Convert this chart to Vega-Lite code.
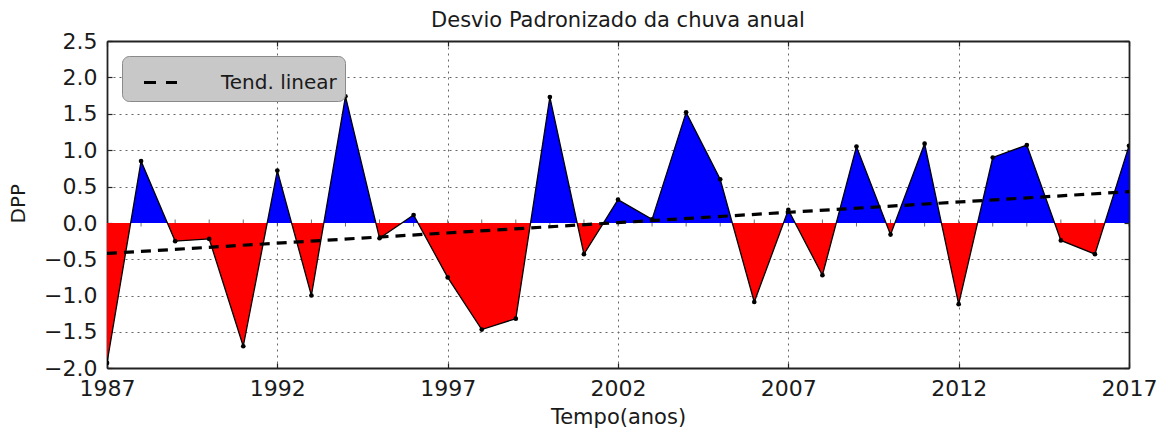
{
  "$schema": "https://vega.github.io/schema/vega-lite/v6.json",
  "padding": {"left": 8, "top": 10, "right": 5, "bottom": 5},
  "background": "white",
  "spacing": 0,
  "bounds": "flush",
  "config": {
    "view": {"stroke": null},
    "font": "DejaVu Sans",
    "axis": {"labelFont": "DejaVu Sans", "titleFont": "DejaVu Sans", "labelColor": "#1a1a1a", "titleColor": "#1a1a1a", "titleFontWeight": "normal",
      "tickColor": "#222", "tickWidth": 1.2, "tickSize": -5, "domain": true, "domainColor": "#222", "domainWidth": 1.8,
      "gridColor": "#666", "gridDash": [2, 4], "gridWidth": 1, "labelFlush": false, "labelOverlap": false, "labelFontSize": 22}
  },
  "datasets": {
    "dpp": [
      {"ano": 1987, "dpp": -1.93}, {"ano": 1988, "dpp": 0.85}, {"ano": 1989, "dpp": -0.25},
      {"ano": 1990, "dpp": -0.22}, {"ano": 1991, "dpp": -1.70}, {"ano": 1992, "dpp": 0.72},
      {"ano": 1993, "dpp": -1.00}, {"ano": 1994, "dpp": 1.74}, {"ano": 1995, "dpp": -0.21},
      {"ano": 1996, "dpp": 0.11}, {"ano": 1997, "dpp": -0.75}, {"ano": 1998, "dpp": -1.47},
      {"ano": 1999, "dpp": -1.32}, {"ano": 2000, "dpp": 1.73}, {"ano": 2001, "dpp": -0.43},
      {"ano": 2002, "dpp": 0.32}, {"ano": 2003, "dpp": 0.05}, {"ano": 2004, "dpp": 1.52},
      {"ano": 2005, "dpp": 0.60}, {"ano": 2006, "dpp": -1.09}, {"ano": 2007, "dpp": 0.18},
      {"ano": 2008, "dpp": -0.72}, {"ano": 2009, "dpp": 1.05}, {"ano": 2010, "dpp": -0.16},
      {"ano": 2011, "dpp": 1.09}, {"ano": 2012, "dpp": -1.12}, {"ano": 2013, "dpp": 0.90},
      {"ano": 2014, "dpp": 1.07}, {"ano": 2015, "dpp": -0.24}, {"ano": 2016, "dpp": -0.43},
      {"ano": 2017, "dpp": 1.06}
    ],
    "tend": [
      {"ano": 1987, "tend": -0.42, "serie": "Tend. linear"},
      {"ano": 2017, "tend": 0.43, "serie": "Tend. linear"}
    ]
  },
  "resolve": {"scale": {"color": "independent"}, "legend": {"color": "independent"}},
  "vconcat": [
    {
      "width": 1022,
      "height": 182,
      "title": {"text": "Desvio Padronizado da chuva anual", "fontSize": 21, "font": "DejaVu Sans", "fontWeight": "normal", "color": "#1a1a1a", "offset": -1, "frame": "group"},
      "resolve": {"axis": {"y": "independent"}},
      "layer": [
        {
          "data": {"name": "dpp"},
          "mark": {"type": "tick", "orient": "vertical", "color": "#333", "size": 7, "thickness": 1, "clip": true},
          "encoding": {
            "x": {"field": "ano", "type": "quantitative", "scale": {"domain": [1987, 2017], "nice": false, "zero": false}},
            "y": {"datum": 0, "type": "quantitative", "scale": {"domain": [0, 2.5], "nice": false, "zero": false}, "axis": null}
          }
        },
        {
          "data": {"name": "dpp"},
          "mark": {"type": "area", "color": "#0000ff", "opacity": 1, "clip": true},
          "encoding": {
            "x": {"field": "ano", "type": "quantitative", "scale": {"domain": [1987, 2017], "nice": false, "zero": false},
              "axis": {"orient": "top", "values": [1987, 1992, 1997, 2002, 2007, 2012, 2017], "labels": false, "title": null, "grid": true, "domain": true}},
            "y": {"field": "dpp", "type": "quantitative", "scale": {"domain": [0, 2.5], "nice": false, "zero": false},
              "axis": {"orient": "left", "values": [0.5, 1, 1.5, 2, 2.5], "format": ".1f", "title": "DPP", "titleFontSize": 20, "domain": true,
                "labelPadding": 15, "titlePadding": 34, "titleAnchor": "start", "grid": true}},
            "y2": {"datum": 0}
          }
        },
        {
          "data": {"name": "dpp"},
          "mark": {"type": "line", "color": "#000000", "strokeWidth": 1.3, "clip": true, "point": {"filled": true, "color": "#000000", "size": 22}},
          "encoding": {
            "x": {"field": "ano", "type": "quantitative"},
            "y": {"field": "dpp", "type": "quantitative",
              "axis": {"orient": "right", "values": [0.5, 1, 1.5, 2, 2.5], "labels": false, "title": null, "grid": false, "domain": true}}
          }
        },
        {
          "data": {"name": "tend"},
          "mark": {"type": "line", "strokeWidth": 3.2, "strokeDash": [10, 7], "clip": true},
          "encoding": {
            "x": {"field": "ano", "type": "quantitative"},
            "y": {"field": "tend", "type": "quantitative", "axis": null},
            "color": {"field": "serie", "type": "nominal", "scale": {"range": ["#000000"]},
              "legend": {"orient": "top-left", "offset": 15, "title": null, "symbolType": "stroke", "symbolStrokeWidth": 3.2,
                "symbolDash": [12, 10], "symbolSize": 1089, "symbolOffset": 12, "labelFontSize": 20, "labelFont": "DejaVu Sans", "labelColor": "#1a1a1a",
                "labelOffset": 42, "padding": 8, "fillColor": "#c8c8c8", "strokeColor": "#8a8a8a", "cornerRadius": 7}}
          }
        }
      ]
    },
    {
      "width": 1022,
      "height": 145,
      "resolve": {"axis": {"y": "independent"}},
      "layer": [
        {
          "data": {"name": "dpp"},
          "mark": {"type": "tick", "orient": "vertical", "color": "#333", "size": 7, "thickness": 1, "clip": true},
          "encoding": {
            "x": {"field": "ano", "type": "quantitative", "scale": {"domain": [1987, 2017], "nice": false, "zero": false}},
            "y": {"datum": 0, "type": "quantitative", "scale": {"domain": [-2, 0], "nice": false, "zero": false}, "axis": null}
          }
        },
        {
          "data": {"name": "dpp"},
          "mark": {"type": "area", "color": "#ff0000", "opacity": 1, "clip": true},
          "encoding": {
            "x": {"field": "ano", "type": "quantitative", "scale": {"domain": [1987, 2017], "nice": false, "zero": false},
              "axis": {"orient": "bottom", "values": [1987, 1992, 1997, 2002, 2007, 2012, 2017], "format": "d", "title": "Tempo(anos)", "domain": true,
                "titleFontSize": 21, "labelPadding": 15, "titlePadding": 7, "grid": true}},
            "y": {"field": "dpp", "type": "quantitative", "scale": {"domain": [-2, 0], "nice": false, "zero": false},
              "axis": {"orient": "left", "values": [-2, -1.5, -1, -0.5, 0], "format": ".1f", "title": null, "domain": true,
                "labelPadding": 15, "grid": true, "gridOpacity": {"condition": {"test": "datum.value === 0", "value": 0}, "value": 1}}},
            "y2": {"datum": 0}
          }
        },
        {
          "data": {"name": "dpp"},
          "mark": {"type": "line", "color": "#000000", "strokeWidth": 1.3, "clip": true, "point": {"filled": true, "color": "#000000", "size": 22}},
          "encoding": {
            "x": {"field": "ano", "type": "quantitative"},
            "y": {"field": "dpp", "type": "quantitative",
              "axis": {"orient": "right", "values": [-2, -1.5, -1, -0.5, 0], "labels": false, "title": null, "grid": false, "domain": true}}
          }
        },
        {
          "data": {"name": "tend"},
          "mark": {"type": "line", "color": "#000000", "strokeWidth": 3.2, "strokeDash": [10, 7], "clip": true},
          "encoding": {
            "x": {"field": "ano", "type": "quantitative"},
            "y": {"field": "tend", "type": "quantitative", "axis": null}
          }
        }
      ]
    }
  ]
}
